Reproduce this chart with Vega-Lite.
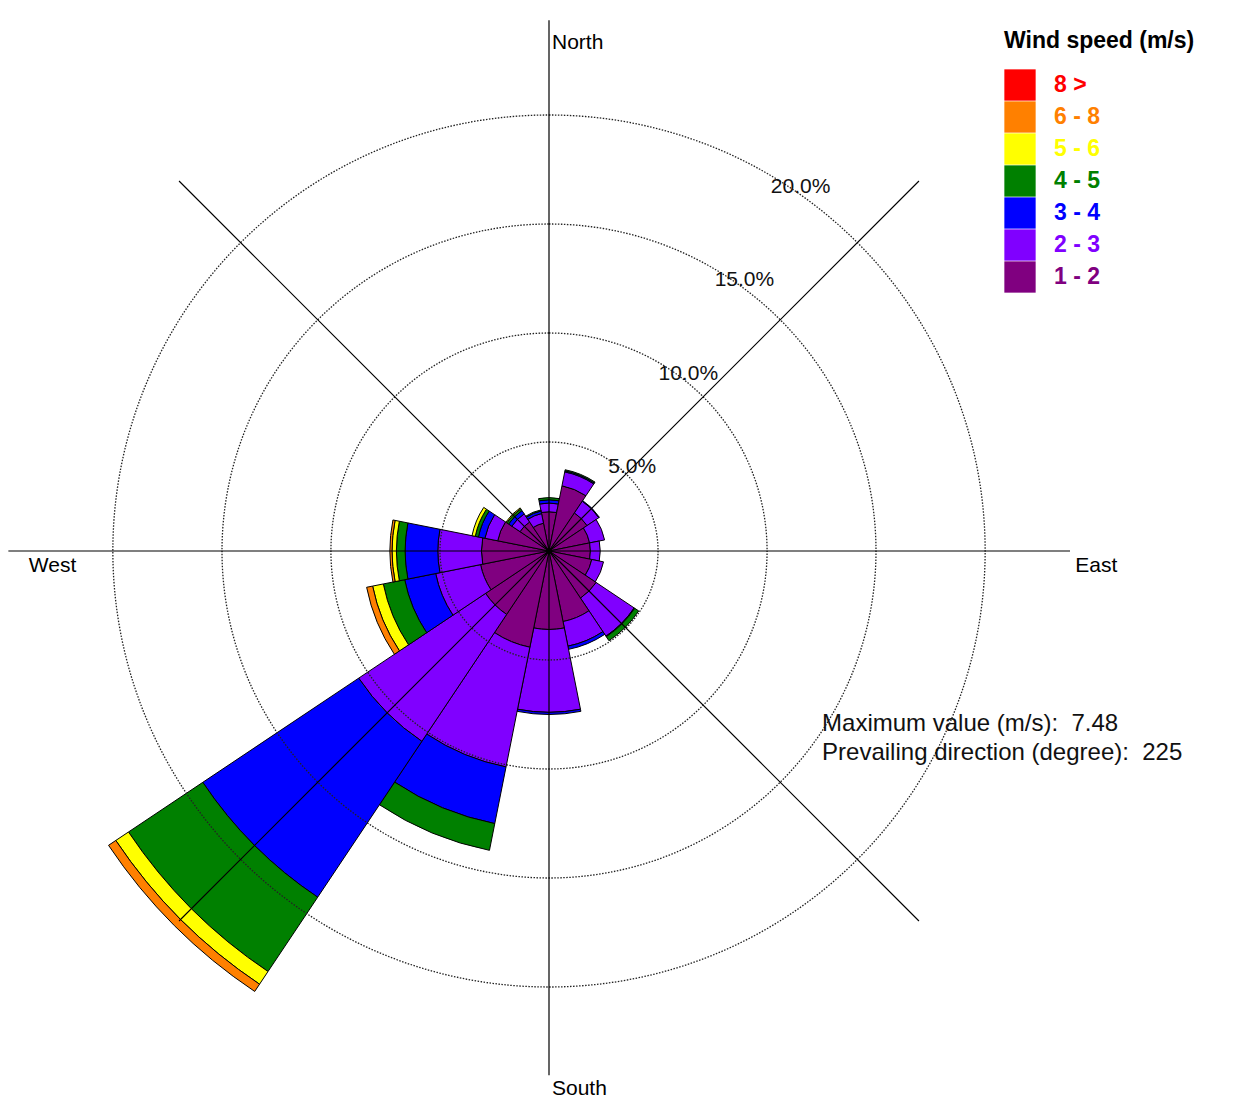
{
  "$schema": "https://vega.github.io/schema/vega-lite/v6.json",
  "width": 1098,
  "height": 1102,
  "padding": {"left": 0, "top": 0, "right": 151, "bottom": 6},
  "autosize": "none",
  "background": "white",
  "config": {"view": {"stroke": null}, "font": "Liberation Sans"},
  "datasets": {
    "wind": [
      {"dir": 0, "speed": "1 - 2", "pct": 1.8}, {"dir": 0, "speed": "2 - 3", "pct": 0.4}, {"dir": 0, "speed": "3 - 4", "pct": 0.15}, {"dir": 0, "speed": "4 - 5", "pct": 0.1},
      {"dir": 22.5, "speed": "1 - 2", "pct": 3.05}, {"dir": 22.5, "speed": "2 - 3", "pct": 0.65}, {"dir": 22.5, "speed": "3 - 4", "pct": 0.05}, {"dir": 22.5, "speed": "4 - 5", "pct": 0.05},
      {"dir": 45, "speed": "1 - 2", "pct": 2.1}, {"dir": 45, "speed": "2 - 3", "pct": 0.65}, {"dir": 45, "speed": "3 - 4", "pct": 0.03},
      {"dir": 67.5, "speed": "1 - 2", "pct": 1.9}, {"dir": 67.5, "speed": "2 - 3", "pct": 0.7},
      {"dir": 90, "speed": "1 - 2", "pct": 1.9}, {"dir": 90, "speed": "2 - 3", "pct": 0.45},
      {"dir": 112.5, "speed": "1 - 2", "pct": 2.0}, {"dir": 112.5, "speed": "2 - 3", "pct": 0.55},
      {"dir": 135, "speed": "1 - 2", "pct": 2.6}, {"dir": 135, "speed": "2 - 3", "pct": 2.1}, {"dir": 135, "speed": "3 - 4", "pct": 0.03}, {"dir": 135, "speed": "4 - 5", "pct": 0.22},
      {"dir": 157.5, "speed": "1 - 2", "pct": 3.3}, {"dir": 157.5, "speed": "2 - 3", "pct": 1.15}, {"dir": 157.5, "speed": "3 - 4", "pct": 0.15},
      {"dir": 180, "speed": "1 - 2", "pct": 3.6}, {"dir": 180, "speed": "2 - 3", "pct": 3.8}, {"dir": 180, "speed": "3 - 4", "pct": 0.1},
      {"dir": 202.5, "speed": "1 - 2", "pct": 4.5}, {"dir": 202.5, "speed": "2 - 3", "pct": 5.6}, {"dir": 202.5, "speed": "3 - 4", "pct": 2.65}, {"dir": 202.5, "speed": "4 - 5", "pct": 1.25},
      {"dir": 225, "speed": "1 - 2", "pct": 3.5}, {"dir": 225, "speed": "2 - 3", "pct": 7.0}, {"dir": 225, "speed": "3 - 4", "pct": 8.6}, {"dir": 225, "speed": "4 - 5", "pct": 4.1}, {"dir": 225, "speed": "5 - 6", "pct": 0.7}, {"dir": 225, "speed": "6 - 8", "pct": 0.4},
      {"dir": 247.5, "speed": "1 - 2", "pct": 3.2}, {"dir": 247.5, "speed": "2 - 3", "pct": 2.1}, {"dir": 247.5, "speed": "3 - 4", "pct": 1.45}, {"dir": 247.5, "speed": "4 - 5", "pct": 1.0}, {"dir": 247.5, "speed": "5 - 6", "pct": 0.5}, {"dir": 247.5, "speed": "6 - 8", "pct": 0.28},
      {"dir": 270, "speed": "1 - 2", "pct": 3.1}, {"dir": 270, "speed": "2 - 3", "pct": 2.0}, {"dir": 270, "speed": "3 - 4", "pct": 1.5}, {"dir": 270, "speed": "4 - 5", "pct": 0.4}, {"dir": 270, "speed": "5 - 6", "pct": 0.2}, {"dir": 270, "speed": "6 - 8", "pct": 0.1},
      {"dir": 292.5, "speed": "1 - 2", "pct": 2.4}, {"dir": 292.5, "speed": "2 - 3", "pct": 0.6}, {"dir": 292.5, "speed": "3 - 4", "pct": 0.3}, {"dir": 292.5, "speed": "4 - 5", "pct": 0.15}, {"dir": 292.5, "speed": "5 - 6", "pct": 0.15},
      {"dir": 315, "speed": "1 - 2", "pct": 1.6}, {"dir": 315, "speed": "2 - 3", "pct": 0.45}, {"dir": 315, "speed": "3 - 4", "pct": 0.18}, {"dir": 315, "speed": "4 - 5", "pct": 0.1}, {"dir": 315, "speed": "5 - 6", "pct": 0.05},
      {"dir": 337.5, "speed": "1 - 2", "pct": 1.3}, {"dir": 337.5, "speed": "2 - 3", "pct": 0.45}, {"dir": 337.5, "speed": "3 - 4", "pct": 0.12}, {"dir": 337.5, "speed": "4 - 5", "pct": 0.05}
    ],
    "rings": [
      {"ring": 5, "label": "5.0%"}, {"ring": 10, "label": "10.0%"}, {"ring": 15, "label": "15.0%"}, {"ring": 20, "label": "20.0%"}
    ],
    "axes": [
      {"dir": 0, "len": 24.35}, {"dir": 45, "len": 24.0}, {"dir": 90, "len": 23.9}, {"dir": 135, "len": 24.0},
      {"dir": 180, "len": 24.05}, {"dir": 225, "len": 24.0}, {"dir": 270, "len": 24.8}, {"dir": 315, "len": 24.0}
    ],
    "cardinals": [
      {"dir": 0, "label": "North"}, {"dir": 90, "label": "East"}, {"dir": 180, "label": "South"}, {"dir": 270, "label": "West"}
    ]
  },
  "layer": [
    {
      "data": {"name": "wind"},
      "transform": [
        {"bin": {"anchor": -11.25, "step": 22.5, "extent": [-11.25, 348.75], "nice": false}, "field": "dir", "as": ["t0", "t1"]},
        {"stack": "pct", "groupby": ["dir"], "sort": [{"field": "speed", "order": "ascending"}], "as": ["r0", "r1"]}
      ],
      "mark": {"type": "arc", "stroke": "black", "strokeWidth": 1},
      "encoding": {
        "theta": {"field": "t0", "type": "quantitative", "stack": null, "scale": {"type": "linear", "domain": [0, 360], "range": [0, 6.283185307], "zero": false, "nice": false}},
        "theta2": {"field": "t1"},
        "radius": {"field": "r1", "type": "quantitative", "stack": null, "scale": {"type": "linear", "domain": [0, 25], "range": [0, 545], "zero": true, "nice": false}},
        "radius2": {"field": "r0"},
        "color": {
          "field": "speed", "type": "nominal",
          "scale": {"domain": ["8 >", "6 - 8", "5 - 6", "4 - 5", "3 - 4", "2 - 3", "1 - 2"], "range": ["#FF0000", "#FF8000", "#FFFF00", "#008000", "#0000FF", "#8000FF", "#800080"]},
          "legend": {
            "orient": "none", "legendX": 1004, "legendY": 30,
            "title": "Wind speed (m/s)", "titleFontSize": 23, "titleFontWeight": "bold", "titleColor": "black", "titleFont": "Liberation Sans", "titlePadding": 16, "titleLimit": 400,
            "labelFontSize": 23, "labelFontWeight": "bold", "labelFont": "Liberation Sans", "labelOffset": 18,
            "labelColor": {"expr": "scale('color', datum.value)"},
            "symbolType": "square", "symbolSize": 980, "symbolStrokeWidth": 0, "symbolOpacity": 1, "rowPadding": 0
          }
        }
      }
    },
    {
      "data": {"name": "rings"},
      "mark": {"type": "arc", "filled": false, "stroke": "#222222", "strokeWidth": 1.3, "strokeDash": [1.5, 1.5]},
      "encoding": {
        "theta": {"value": 0},
        "theta2": {"value": 6.2832},
        "radius": {"field": "ring", "type": "quantitative", "stack": null, "scale": {"type": "linear", "domain": [0, 25], "range": [0, 545], "zero": true, "nice": false}},
        "radius2": {"datum": 0}
      }
    },
    {
      "data": {"name": "axes"},
      "mark": {"type": "arc", "filled": false, "stroke": "black", "strokeWidth": 1.2},
      "encoding": {
        "theta": {"field": "dir", "type": "quantitative", "stack": null, "scale": {"type": "linear", "domain": [0, 360], "range": [0, 6.283185307], "zero": false, "nice": false}},
        "theta2": {"field": "dir"},
        "radius": {"field": "len", "type": "quantitative", "stack": null, "scale": {"type": "linear", "domain": [0, 25], "range": [0, 545], "zero": true, "nice": false}},
        "radius2": {"datum": 0}
      }
    },
    {
      "data": {"name": "cardinals"},
      "mark": {"type": "text", "align": "left", "baseline": "top", "dx": 3, "dy": 4, "fontSize": 21, "font": "Liberation Sans", "color": "black"},
      "encoding": {
        "theta": {"field": "dir", "type": "quantitative", "stack": null, "scale": {"type": "linear", "domain": [0, 360], "range": [0, 6.283185307], "zero": false, "nice": false}},
        "radius": {"datum": 24},
        "text": {"field": "label"}
      }
    },
    {
      "data": {"name": "rings"},
      "mark": {"type": "text", "align": "center", "baseline": "middle", "dx": 27, "dy": 9.5, "fontSize": 21, "font": "Liberation Sans", "color": "#111111"},
      "encoding": {
        "theta": {"value": 0.541},
        "radius": {"field": "ring", "type": "quantitative", "stack": null, "scale": {"type": "linear", "domain": [0, 25], "range": [0, 545], "zero": true, "nice": false}},
        "text": {"field": "label"}
      }
    },
    {
      "data": {"values": [{"note": "summary"}]},
      "mark": {"type": "text", "align": "left", "baseline": "middle", "fontSize": 24, "lineHeight": 29, "font": "Liberation Sans", "color": "#111111",
               "text": ["Maximum value (m/s): \u00a07.48", "Prevailing direction (degree): \u00a0225"]},
      "encoding": {
        "theta": {"datum": 122.36},
        "radius": {"datum": 14.83}
      }
    }
  ]
}
